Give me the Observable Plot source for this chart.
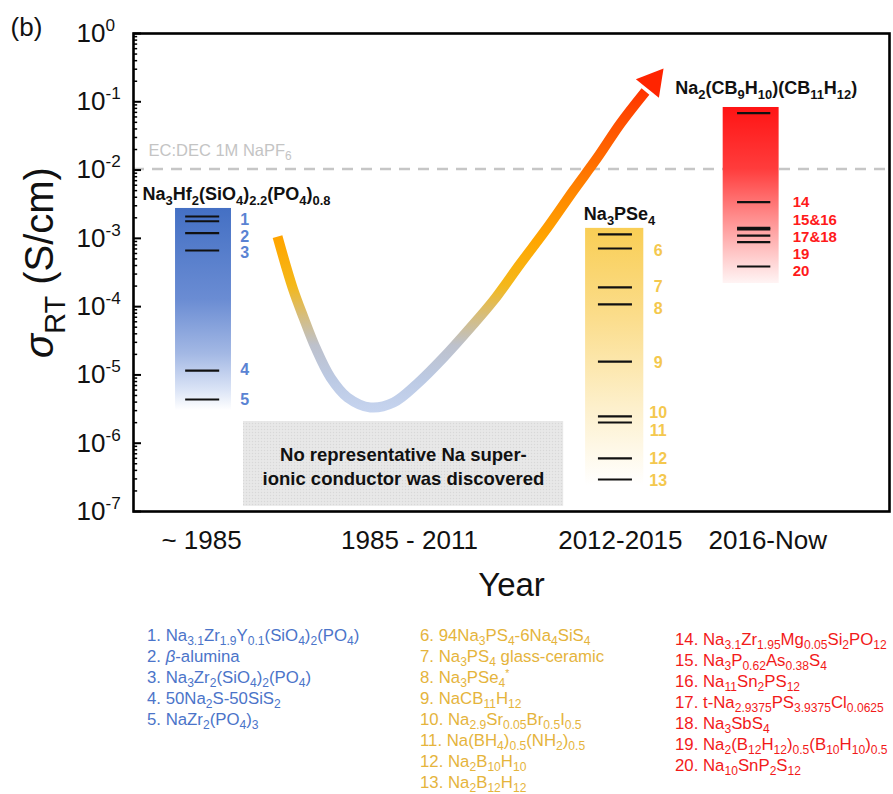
<!DOCTYPE html>
<html>
<head>
<meta charset="utf-8">
<script src="https://cdn.jsdelivr.net/npm/d3@7"></script>
<script src="https://cdn.jsdelivr.net/npm/@observablehq/plot@0.6"></script>
<style>
  body { margin: 0; background: #fff; }
  #root { position: relative; width: 893px; height: 794px; background: #fff; font-family: 'Liberation Sans', Arial, sans-serif; overflow: hidden; }
  #chart { position: absolute; left: 0; top: 0; }
  .leg { position: absolute; font-size: 16.8px; white-space: nowrap; }
  .leg div { height: 21px; line-height: 21px; }
  .leg sub { font-size: 0.72em; vertical-align: -0.3em; line-height: 0; }
  .leg sup { font-size: 0.62em; vertical-align: 0.55em; line-height: 0; }
</style>
</head>
<body>
<div id="root">
  <div id="chart"></div>
  <div class="leg" id="legBlue"></div>
  <div class="leg" id="legYellow"></div>
  <div class="leg" id="legRed"></div>
</div>
<script>
// ---------------- DATA ----------------
const yTickExponents = [0, -1, -2, -3, -4, -5, -6, -7];
const xCategories = ["~ 1985", "1985 - 2011", "2012-2015", "2016-Now"];

// reference electrolyte
const refLabel = "EC:DEC 1M NaPF_{6}";
const refValue = 0.0104;

// ~1985 (blue)
const blueTitle = "Na_{3}Hf_{2}(SiO_{4})_{2.2}(PO_{4})_{0.8}";
const blueRange = [3.0e-6, 2.74e-3];
const blueLines = [2.09e-3, 1.78e-3, 1.19e-3, 6.64e-4, 1.16e-5, 4.37e-6];
const blueLabelText = ["1", "2", "3", "4", "5"];
const blueLabelValue = [1.89e-3, 1.06e-3, 6.2e-4, 1.2e-5, 4.37e-6];

// 2012-2015 (yellow)
const yellowTitle = "Na_{3}PSe_{4}";
const yellowRange = [2.4e-7, 1.40e-3];
const yellowLines = [1.14e-3, 7.1e-4, 1.91e-4, 1.08e-4, 1.57e-5, 2.47e-6, 2.01e-6, 5.98e-7, 2.94e-7];
const yellowLabelText = ["6", "7", "8", "9", "10", "11", "12", "13"];
const yellowLabelValue = [6.64e-4, 1.97e-4, 9.4e-5, 1.52e-5, 2.82e-6, 1.54e-6, 5.98e-7, 2.85e-7];

// 2016-Now (red)
const redTitle = "Na_{2}(CB_{9}H_{10})(CB_{11}H_{12})";
const redRange = [2.18e-4, 0.0825];
const redLines = [0.068, 3.39e-3, 1.42e-3, 1.35e-3, 1.10e-3, 8.8e-4, 3.87e-4];
const redLabelText = ["14", "15&16", "17&18", "19", "20"];
const redLabelValue = [3.35e-3, 1.83e-3, 1.03e-3, 5.8e-4, 3.27e-4];

// trend curve (x in 0..100 time axis units, y in S/cm); last point = arrow tip
const trendX = [19.05, 21.03, 22.49, 24.07, 26.06, 28.31, 31.35, 34.39, 37.57, 41.01, 44.58, 47.62, 51.19, 54.76, 58.20, 61.38, 64.42, 67.72, 70.11];
const trendY = [1.06e-3, 1.91e-4, 6.94e-5, 2.52e-5, 9.18e-6, 4.68e-6, 3.34e-6, 3.95e-6, 7.5e-6, 1.80e-5, 4.95e-5, 1.23e-4, 4.28e-4, 1.44e-3, 5.02e-3, 0.0153, 0.0481, 0.1415, 0.307];

const gapNote = "No representative Na super-\nionic conductor was discovered";

const blueNames = [
  "1. Na_{3.1}Zr_{1.9}Y_{0.1}(SiO_{4})_{2}(PO_{4})",
  "2. ~{β}-alumina",
  "3. Na_{3}Zr_{2}(SiO_{4})_{2}(PO_{4})",
  "4. 50Na_{2}S-50SiS_{2}",
  "5. NaZr_{2}(PO_{4})_{3}"
];
const yellowNames = [
  "6. 94Na_{3}PS_{4}-6Na_{4}SiS_{4}",
  "7. Na_{3}PS_{4} glass-ceramic",
  "8. Na_{3}PSe_{4}^{*}",
  "9. NaCB_{11}H_{12}",
  "10. Na_{2.9}Sr_{0.05}Br_{0.5}I_{0.5}",
  "11. Na(BH_{4})_{0.5}(NH_{2})_{0.5}",
  "12. Na_{2}B_{10}H_{10}",
  "13. Na_{2}B_{12}H_{12}"
];
const redNames = [
  "14. Na_{3.1}Zr_{1.95}Mg_{0.05}Si_{2}PO_{12}",
  "15. Na_{3}P_{0.62}As_{0.38}S_{4}",
  "16. Na_{11}Sn_{2}PS_{12}",
  "17. t-Na_{2.9375}PS_{3.9375}Cl_{0.0625}",
  "18. Na_{3}SbS_{4}",
  "19. Na_{2}(B_{12}H_{12})_{0.5}(B_{10}H_{10})_{0.5}",
  "20. Na_{10}SnP_{2}S_{12}"
];

// ---------------- LAYOUT / STYLE ----------------
const xCategoryPos = [9.0, 36.5, 64.4, 83.9];
const BLUE = "#4b74c9", BLUE_LBL = "#5a83d3", YEL = "#e5b43c", YEL_LBL = "#f4c84e", RED = "#f21a1a", RED_LBL = "#ff1a1a";
const bars = {
  blue:   {x1: 5.56, x2: 12.96, l1: 6.9, l2: 11.4, lx: 14.7, tx: 1.19, ty: 4.39e-3},
  yellow: {x1: 59.8, x2: 67.5, l1: 61.5, l2: 66.0, lx: 69.4, tx: 64.3, ty: 2.25e-3},
  red:    {x1: 78.0, x2: 85.4, l1: 79.9, l2: 84.3, lx: 87.2, tx: 83.7, ty: 0.16}
};
const curveStops = [[0.307, "#ff2000"], [0.0745, "#ff4600"], [0.0138, "#ff6c00"], [3.59e-3, "#ff8c00"], [9.3e-4, "#ffa600"], [2.04e-4, "#f4b81a"], [7.4e-5, "#d6bd7c"], [2.7e-5, "#bdc1cc"], [8.3e-6, "#bccae4"], [2.82e-6, "#c6d4ef"]];

const majorTicks = yTickExponents.map(e => 10 ** e);
const minorTicks = [];
for (const e of yTickExponents.slice(1)) for (let k = 2; k <= 9; k++) minorTicks.push(k * 10 ** e);

const trend = trendX.map((x, i) => ({x, y: trendY[i]}));
const trendLine = trend.slice(0, -1);
const tip = trend[trend.length - 1];
const arrowRot = 39, arrowR = 11;
const tipDist = 2 * Math.sqrt(Math.PI * arrowR * arrowR / (3 * Math.sqrt(3)));
const arrowDx = -tipDist * Math.sin(arrowRot * Math.PI / 180);
const arrowDy = tipDist * Math.cos(arrowRot * Math.PI / 180);

const zip = (t, v) => t.map((s, i) => ({t: s, v: v[i]}));

const chart = Plot.plot({
  width: 893, height: 600,
  marginLeft: 133, marginRight: 4, marginTop: 33, marginBottom: 89,
  style: "font-family: 'Liberation Sans', Arial, sans-serif; background: transparent; overflow: visible;",
  x: {domain: [0, 100], axis: null},
  y: {type: "log", domain: [1e-7, 1], axis: null},
  marks: [
    // gap note box
    Plot.rect([0], {x1: 14.55, x2: 56.9, y1: 1.19e-7, y2: 2.08e-6, fill: "url(#grayPat)"}),
    Plot.text([gapNote], {x: 35.7, y: 4.72e-7, text: d => d, fontSize: 18.5, fontWeight: "bold", fill: "#111", lineHeight: 1.3}),
    // reference electrolyte
    Plot.ruleY([refValue], {stroke: "#c6c6c6", strokeWidth: 2.5, strokeDasharray: "11,8"}),
    Plot.text([refLabel], {x: 1.98, y: 0.0194, text: d => d, textAnchor: "start", fontSize: 16.5, fill: "#c4c4c4"}),
    // bars
    Plot.rect([blueRange], {x1: bars.blue.x1, x2: bars.blue.x2, y1: d => d[0], y2: d => d[1], fill: "url(#gBlue)"}),
    Plot.rect([yellowRange], {x1: bars.yellow.x1, x2: bars.yellow.x2, y1: d => d[0], y2: d => d[1], fill: "url(#gYellow)"}),
    Plot.rect([redRange], {x1: bars.red.x1, x2: bars.red.x2, y1: d => d[0], y2: d => d[1], fill: "url(#gRed)"}),
    Plot.ruleY(blueLines, {y: d => d, x1: bars.blue.l1, x2: bars.blue.l2, stroke: "#111", strokeWidth: 2.2}),
    Plot.ruleY(yellowLines, {y: d => d, x1: bars.yellow.l1, x2: bars.yellow.l2, stroke: "#111", strokeWidth: 2.2}),
    Plot.ruleY(redLines, {y: d => d, x1: bars.red.l1, x2: bars.red.l2, stroke: "#111", strokeWidth: 2.2}),
    Plot.text(zip(blueLabelText, blueLabelValue), {x: bars.blue.lx, y: "v", text: "t", fill: BLUE_LBL, fontSize: 16, fontWeight: "bold"}),
    Plot.text(zip(yellowLabelText, yellowLabelValue), {x: bars.yellow.lx, y: "v", text: "t", fill: YEL_LBL, fontSize: 16, fontWeight: "bold"}),
    Plot.text(zip(redLabelText, redLabelValue), {x: bars.red.lx, y: "v", text: "t", fill: RED_LBL, fontSize: 15, fontWeight: "bold", textAnchor: "start"}),
    Plot.text([blueTitle], {x: bars.blue.tx, y: bars.blue.ty, text: d => d, textAnchor: "start", fontSize: 18, fontWeight: "bold", fill: "#111"}),
    Plot.text([yellowTitle], {x: bars.yellow.tx, y: bars.yellow.ty, text: d => d, fontSize: 18, fontWeight: "bold", fill: "#111"}),
    Plot.text([redTitle], {x: bars.red.tx, y: bars.red.ty, text: d => d, fontSize: 18, fontWeight: "bold", fill: "#111"}),
    // trend
    Plot.line(trendLine, {x: "x", y: "y", stroke: "url(#curveGrad)", strokeWidth: 10, curve: "catmull-rom", strokeLinecap: "butt"}),
    Plot.dot([tip], {x: "x", y: "y", symbol: "triangle", r: arrowR, rotate: arrowRot, dx: arrowDx, dy: arrowDy, fill: "#ff2400", stroke: "none"}),
    // y ticks (inward)
    Plot.ruleY(majorTicks, {y: d => d, x1: 0, x2: 1.06, stroke: "#000", strokeWidth: 2}),
    Plot.ruleY(minorTicks, {y: d => d, x1: 0, x2: 0.55, stroke: "#000", strokeWidth: 1.5}),
    Plot.text(majorTicks, {y: d => d, frameAnchor: "left", dx: -57, textAnchor: "start", lineAnchor: "middle", text: d => `10^{${Math.round(Math.log10(d))}}`, fontSize: 26, fill: "#111"}),
    // x category labels
    Plot.text(xCategories, {x: (d, i) => xCategoryPos[i], frameAnchor: "bottom", dy: 29, textAnchor: "middle", lineAnchor: "middle", text: d => d, fontSize: 26, fill: "#111"}),
    Plot.text(["Year"], {frameAnchor: "bottom", dy: 74, textAnchor: "middle", lineAnchor: "middle", text: d => d, fontSize: 33, fill: "#111"}),
    Plot.text(["~{σ}_{RT} (S/cm)"], {frameAnchor: "left", dx: -93, dy: -10, rotate: -90, textAnchor: "middle", lineAnchor: "middle", text: d => d, fontSize: 40, fill: "#111"}),
    Plot.text(["(b)"], {frameAnchor: "top-left", dx: -107, dy: -6, textAnchor: "middle", lineAnchor: "middle", text: d => d, fontSize: 26, fill: "#111"}),
    Plot.frame({stroke: "#000", strokeWidth: 2.6})
  ]
});

document.getElementById("chart").appendChild(chart);

// gradients & pattern
const ys = chart.scale("y");
const svg = d3.select(chart);
const defs = svg.insert("defs", ":first-child");
function vgrad(id, stops) {
  const g = defs.append("linearGradient").attr("id", id).attr("x1", 0).attr("y1", 0).attr("x2", 0).attr("y2", 1);
  for (const [o, c] of stops) g.append("stop").attr("offset", o).attr("stop-color", c);
}
vgrad("gBlue", [[0, "#4470c4"], [0.45, "#6a8cd3"], [0.72, "#a3b8e4"], [0.9, "#dbe4f6"], [1, "#ffffff"]]);
vgrad("gYellow", [[0, "#f9ce55"], [0.35, "#fbdd8c"], [0.7, "#fdf0cc"], [1, "#ffffff"]]);
vgrad("gRed", [[0, "#ff1414"], [0.35, "#ff3c3c"], [0.6, "#ff8585"], [0.85, "#ffcccc"], [1, "#fff4f4"]]);
{
  const py = curveStops.map(([v]) => ys.apply(v));
  const y1 = py[0], y2 = py[py.length - 1];
  const g = defs.append("linearGradient").attr("id", "curveGrad").attr("gradientUnits", "userSpaceOnUse")
    .attr("x1", 0).attr("x2", 0).attr("y1", y1).attr("y2", y2);
  curveStops.forEach(([, c], i) => g.append("stop").attr("offset", (py[i] - y1) / (y2 - y1)).attr("stop-color", c));
}
{
  const p = defs.append("pattern").attr("id", "grayPat").attr("patternUnits", "userSpaceOnUse").attr("width", 3).attr("height", 3);
  p.append("rect").attr("width", 3).attr("height", 3).attr("fill", "#e6e6e6");
  p.append("rect").attr("width", 1).attr("height", 1).attr("fill", "#d8d8d8");
  p.append("rect").attr("x", 1.5).attr("y", 1.5).attr("width", 1).attr("height", 1).attr("fill", "#efefef");
}

// rich text: _{sub} ^{sup} ~{italic}
function richify(root) {
  root.querySelectorAll("text").forEach(el => {
    if (el.querySelector("tspan")) return;
    const s = el.textContent;
    if (!/[_^~]\{/.test(s)) return;
    const fs = parseFloat(getComputedStyle(el).fontSize) || 16;
    el.textContent = "";
    let cur = 0;
    const add = (txt, kind) => {
      if (!txt) return;
      const t = document.createElementNS("http://www.w3.org/2000/svg", "tspan");
      let target = 0;
      if (kind === "_") { target = 0.28 * fs; t.setAttribute("font-size", 0.72 * fs); }
      else if (kind === "^") { target = -0.42 * fs; t.setAttribute("font-size", 0.66 * fs); }
      else if (kind === "~") { t.setAttribute("font-style", "italic"); }
      if (target - cur) t.setAttribute("dy", target - cur);
      cur = target;
      t.textContent = txt;
      el.appendChild(t);
    };
    const re = /([_^~])\{([^}]*)\}/g;
    let last = 0, m;
    while ((m = re.exec(s))) { add(s.slice(last, m.index), ""); add(m[2], m[1]); last = re.lastIndex; }
    add(s.slice(last), "");
  });
}
richify(chart);

// legend
function toHTML(s) {
  return s.replace(/&/g, "&amp;").replace(/_\{([^}]*)\}/g, "<sub>$1</sub>").replace(/\^\{([^}]*)\}/g, "<sup>$1</sup>").replace(/~\{([^}]*)\}/g, "<i>$1</i>");
}
function legend(id, names, color, left, top) {
  const el = document.getElementById(id);
  el.style.left = left + "px"; el.style.top = top + "px"; el.style.color = color;
  el.innerHTML = names.map(n => `<div>${toHTML(n)}</div>`).join("");
}
legend("legBlue", blueNames, BLUE, 147, 625);
legend("legYellow", yellowNames, YEL, 420, 625);
legend("legRed", redNames, RED, 675, 629);
</script>
</body>
</html>
